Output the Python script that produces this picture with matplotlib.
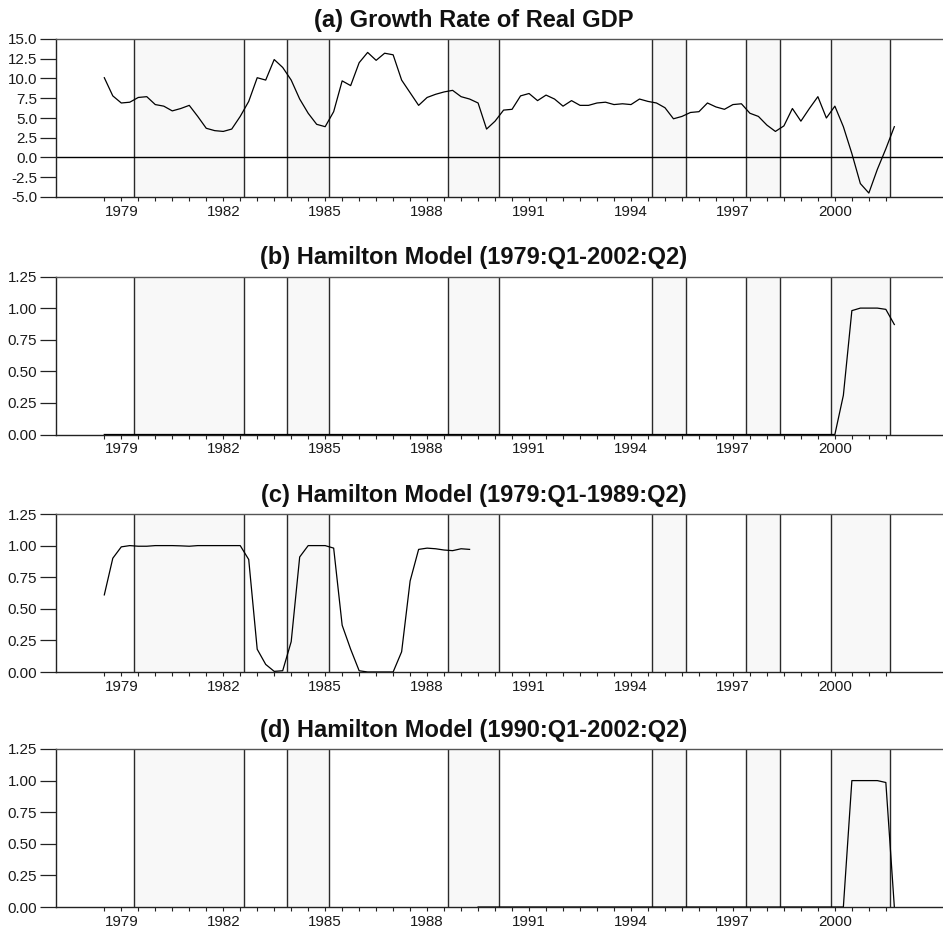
import matplotlib
matplotlib.use("Agg")
import matplotlib.pyplot as plt
import matplotlib.ticker as mticker

plt.rcParams['font.family'] = ['Liberation Sans', 'DejaVu Sans']

# ---------------- data ----------------
start_year = 1979  # 1979:Q1 is observation 0 (quarterly)

titles = [
    "(a) Growth Rate of Real GDP",
    "(b) Hamilton Model (1979:Q1-2002:Q2)",
    "(c) Hamilton Model (1979:Q1-1989:Q2)",
    "(d) Hamilton Model (1990:Q1-2002:Q2)",
]

# (a) real GDP growth, 1979Q1 - 2002Q2
gdp_growth = [
    10.1, 7.8, 6.9, 7.0,
    7.6, 7.7, 6.7, 6.5,
    5.9, 6.2, 6.6, 5.2,
    3.7, 3.4, 3.3, 3.6,
    5.2, 7.1, 10.1, 9.8,
    12.4, 11.4, 9.8, 7.4,
    5.6, 4.2, 3.9, 5.8,
    9.7, 9.1, 12.0, 13.3,
    12.3, 13.2, 13.0, 9.8,
    8.2, 6.6, 7.6, 8.0,
    8.3, 8.5, 7.7, 7.4,
    6.9, 3.6, 4.6, 6.0,
    6.1, 7.8, 8.1, 7.2,
    7.9, 7.4, 6.5, 7.2,
    6.6, 6.6, 6.9, 7.0,
    6.7, 6.8, 6.7, 7.4,
    7.1, 6.9, 6.3, 4.9,
    5.2, 5.7, 5.8, 6.9,
    6.4, 6.1, 6.7, 6.8,
    5.6, 5.2, 4.1, 3.3,
    4.0, 6.2, 4.6, 6.2,
    7.7, 5.0, 6.5, 3.9,
    0.5, -3.3, -4.5, -1.5,
    1.1, 3.9,
]

# (b) smoothed recession probability, sample 1979Q1 - 2002Q2
prob_b = [
    0.0, 0.0, 0.0, 0.0, 0.0, 0.0, 0.0, 0.0, 0.0, 0.0,
    0.0, 0.0, 0.0, 0.0, 0.0, 0.0, 0.0, 0.0, 0.0, 0.0,
    0.0, 0.0, 0.0, 0.0, 0.0, 0.0, 0.0, 0.0, 0.0, 0.0,
    0.0, 0.0, 0.0, 0.0, 0.0, 0.0, 0.0, 0.0, 0.0, 0.0,
    0.0, 0.0, 0.0, 0.0, 0.0, 0.0, 0.0, 0.0, 0.0, 0.0,
    0.0, 0.0, 0.0, 0.0, 0.0, 0.0, 0.0, 0.0, 0.0, 0.0,
    0.0, 0.0, 0.0, 0.0, 0.0, 0.0, 0.0, 0.0, 0.0, 0.0,
    0.0, 0.0, 0.0, 0.0, 0.0, 0.0, 0.0, 0.0, 0.0, 0.0,
    0.0, 0.0, 0.0, 0.0, 0.0, 0.0, 0.0, 0.31, 0.98, 1.0,
    1.0, 1.0, 0.99, 0.87,
]
prob_b_start = 0

# (c) smoothed recession probability, first sample
prob_c = [
    0.61, 0.90, 0.99, 1.0, 0.995, 0.995, 1.0, 1.0, 1.0, 0.998,
    0.995, 1.0, 1.0, 1.0, 1.0, 1.0, 1.0, 0.89, 0.18, 0.06,
    0.005, 0.01, 0.24, 0.91, 1.0, 1.0, 1.0, 0.98, 0.37, 0.18,
    0.01, 0.0, 0.0, 0.0, 0.0, 0.16, 0.72, 0.97, 0.98, 0.975,
    0.965, 0.96, 0.975, 0.97,
]
prob_c_start = 0

# (d) smoothed recession probability, 1990Q1 - 2002Q2
prob_d = [
    0.0, 0.0, 0.0, 0.0, 0.0, 0.0, 0.0, 0.0, 0.0, 0.0,
    0.0, 0.0, 0.0, 0.0, 0.0, 0.0, 0.0, 0.0, 0.0, 0.0,
    0.0, 0.0, 0.0, 0.0, 0.0, 0.0, 0.0, 0.0, 0.0, 0.0,
    0.0, 0.0, 0.0, 0.0, 0.0, 0.0, 0.0, 0.0, 0.0, 0.0,
    0.0, 0.0, 0.0, 0.0, 1.0, 1.0, 1.0, 1.0, 0.985, 0.0,
]
prob_d_start = 44

# shaded contraction periods (first and last quarter)
recessions = [
    ("1980Q1", "1983Q1"),
    ("1984Q3", "1985Q3"),
    ("1989Q2", "1990Q3"),
    ("1995Q2", "1996Q1"),
    ("1998Q1", "1998Q4"),
    ("2000Q3", "2002Q1"),
]

tick_years = [1979, 1982, 1985, 1988, 1991, 1994, 1997, 2000]
yticks_a = [-5.0, -2.5, 0.0, 2.5, 5.0, 7.5, 10.0, 12.5, 15.0]
yticks_p = [0.0, 0.25, 0.5, 0.75, 1.0, 1.25]

# ---------------- helpers ----------------
def qpos(idx):
    return start_year + idx / 4.0

def qstr(s):
    y, q = s.split("Q")
    return int(y) + (int(q) - 1) / 4.0

# ---------------- layout ----------------
W, H = 943, 930
fig = plt.figure(figsize=(W / 100, H / 100), dpi=100)

left_px = 55.5
px_per_year = 33.98
x_origin_px = 104.3
xmin = start_year + (left_px - x_origin_px) / px_per_year
xmax = start_year + (W - x_origin_px) / px_per_year

tops = [39, 276.5, 514, 749]
h_px = 158

series = [
    (gdp_growth, 0, yticks_a, "%.1f"),
    (prob_b, prob_b_start, yticks_p, "%.2f"),
    (prob_c, prob_c_start, yticks_p, "%.2f"),
    (prob_d, prob_d_start, yticks_p, "%.2f"),
]

edge_col = "#2a2a2a"
for i, (vals, st, yt, fmt) in enumerate(series):
    top = tops[i]
    ax = fig.add_axes([left_px / W, 1 - (top + h_px) / H, (W - left_px) / W, h_px / H])
    ax.set_xlim(xmin, xmax)
    ax.set_ylim(yt[0], yt[-1])

    for a, b in recessions:
        x0 = qstr(a) - 0.125
        x1 = qstr(b) + 0.125
        ax.axvspan(x0, x1, facecolor="#f8f8f8", edgecolor="none", zorder=0)
        ax.axvline(x0, color=edge_col, lw=1.0, zorder=1)
        ax.axvline(x1, color=edge_col, lw=1.0, zorder=1)

    if i == 0:
        ax.axhline(0.0, color="black", lw=1.0, zorder=1)

    xs = [qpos(st + k) for k in range(len(vals))]
    ax.plot(xs, vals, color="black", lw=0.9, zorder=3)

    # axis styling
    ax.spines["right"].set_visible(False)
    ax.spines["top"].set_color("#555555")
    ax.spines["left"].set_color("#222222")
    ax.spines["bottom"].set_color("#222222")
    for s in ax.spines.values():
        s.set_linewidth(1.0)

    ax.set_yticks(yt)
    ax.yaxis.set_major_formatter(mticker.FormatStrFormatter(fmt))
    ax.tick_params(axis="y", direction="out", length=11.3, width=0.9,
                   pad=1.9, labelsize=10.9, colors="#222222", labelcolor="#1a1a1a")

    ax.set_xticks([y + 0.5 for y in tick_years])
    ax.set_xticklabels([str(y) for y in tick_years])
    minor_pos = [start_year + 0.5 * k for k in range(0, 47)]
    ax.set_xticks(minor_pos, minor=True)
    ax.tick_params(axis="x", which="both", direction="out", length=2.6, width=0.8,
                   pad=3.0, labelsize=10.9, colors="#222222", labelcolor="#1a1a1a")

    fig.text(474 / W, 1 - (top - 12.5) / H, titles[i], ha="center", va="baseline",
             fontsize=17, fontweight="bold", color="#111111")

fig.savefig("out.png", dpi=100)
